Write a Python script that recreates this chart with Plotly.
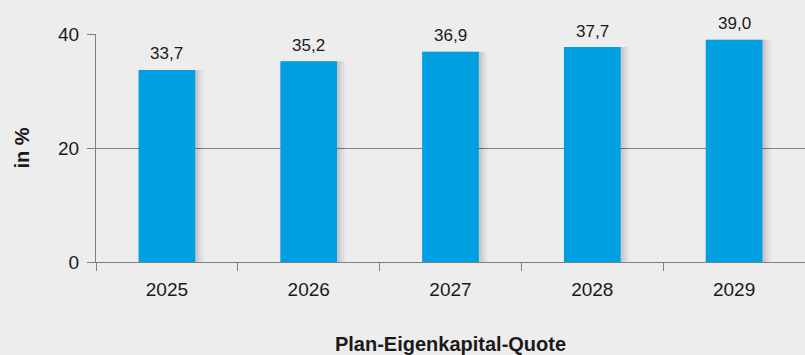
import plotly.graph_objects as go

years = ["2025", "2026", "2027", "2028", "2029"]
values = [33.7, 35.2, 36.9, 37.7, 39.0]
labels = ["33,7", "35,2", "36,9", "37,7", "39,0"]
y_ticks = [0, 20, 40]

BG = "#ededed"
BLUE = "#009fe2"
AXIS = "#7f7f7f"
FONT = "Liberation Sans, Arial, Helvetica, sans-serif"

fig = go.Figure()
# soft shadow to the right of each bar
for extra, alpha in [(0.06, 0.025), (0.045, 0.035), (0.03, 0.045), (0.015, 0.06)]:
    fig.add_trace(go.Bar(
        x=years, y=values, width=0.4 + extra, offset=-0.2 + 0.004,
        marker=dict(color=f"rgba(0,0,0,{alpha})", line=dict(width=0)),
        hoverinfo="skip", showlegend=False,
    ))
fig.add_trace(go.Bar(
    x=years, y=values, marker=dict(color=BLUE, line=dict(width=0)),
    width=0.4, offset=-0.2, hoverinfo="skip", showlegend=False,
))

for i, (v, lab) in enumerate(zip(values, labels)):
    fig.add_annotation(
        x=i, y=v, text=lab, showarrow=False, yanchor="middle", yshift=16,
        bgcolor=BG, borderpad=1, font=dict(family=FONT, size=17, color="#1a1a1a"),
    )

fig.update_layout(
    width=805, height=355,
    margin=dict(l=96, r=0, t=34, b=93),
    paper_bgcolor=BG, plot_bgcolor=BG,
    font=dict(family=FONT, size=19, color="#1a1a1a"),
    barmode="overlay",
)
fig.update_xaxes(
    type="category", automargin=False, tickangle=0,
    showline=True, linecolor=AXIS, linewidth=1.3,
    ticks="outside", tickson="boundaries", ticklen=8, tickcolor=AXIS, tickwidth=1.3,
    showgrid=False, ticklabelstandoff=10,
    tickfont=dict(size=19),
    title=dict(text="<b>Plan-Eigenkapital-Quote</b>", font=dict(size=20), standoff=45),
)
fig.update_yaxes(
    range=[0, 40], tickvals=y_ticks, automargin=False,
    showline=True, linecolor=AXIS, linewidth=1.3,
    ticks="outside", ticklen=8, tickcolor=AXIS, tickwidth=1.3,
    showgrid=True, gridcolor=AXIS, gridwidth=1.3, zeroline=False,
    tickfont=dict(size=19), ticklabelstandoff=4,
    title=dict(text="<b>in %</b>", font=dict(size=20), standoff=22),
)

fig.write_html(
    "out.html",
    config={"displayModeBar": False},
    post_script="document.body.style.margin='0';document.body.style.background='#ededed';",
)
